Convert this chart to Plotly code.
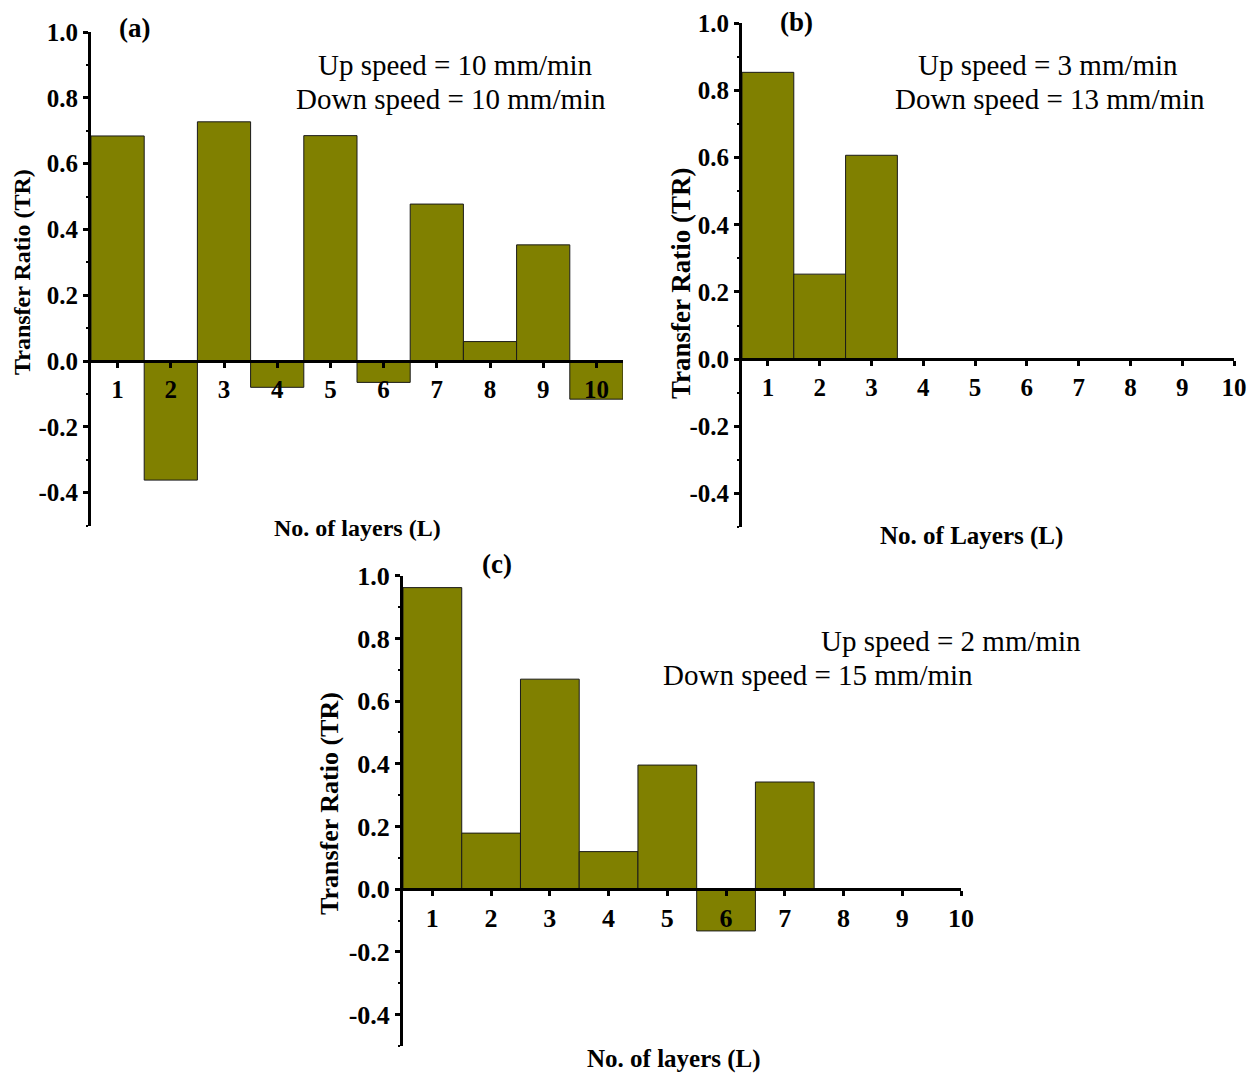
import plotly.graph_objects as go

# ---------------- data ----------------
layers = [1, 2, 3, 4, 5, 6, 7, 8, 9, 10]
tr_a = [0.684, -0.362, 0.727, -0.080, 0.685, -0.065, 0.477, 0.059, 0.353, -0.116]
tr_b = [0.854, 0.253, 0.607, 0, 0, 0, 0, 0, 0, 0]
tr_c = [0.962, 0.179, 0.670, 0.120, 0.396, -0.133, 0.342, 0, 0, 0]

y_tickvals = [-0.4, -0.2, 0.0, 0.2, 0.4, 0.6, 0.8, 1.0]
y_ticktext = ["-0.4", "-0.2", "0.0", "0.2", "0.4", "0.6", "0.8", "1.0"]
x_ticktext = ["1", "2", "3", "4", "5", "6", "7", "8", "9", "10"]

OFF = 8  # page body margin of the browser
W, H = 1259 - OFF, 1074 - OFF
FONT = "Liberation Serif"
BAR = "#808000"


def fx(px):
    return (px - OFF) / W


def fy(py):
    return 1 - (py - OFF) / H


# panel geometry in (screen) pixels
panels = [
    dict(x0=91, x1=623, top=32, bot=525.5, xr=[0.5, 10.5], data=tr_a, tick=25),
    dict(x0=742, x1=1234, top=23.3, bot=527, xr=[0.5, 10.0], data=tr_b, tick=25),
    dict(x0=403, x1=961, top=575.7, bot=1046, xr=[0.5, 10.0], data=tr_c, tick=26),
]
YR = [-0.5, 1.0]

fig = go.Figure()
layout = dict(
    template="none",
    width=W, height=H, autosize=False,
    margin=dict(l=0, r=0, t=0, b=0, pad=0, autoexpand=False),
    paper_bgcolor="white", plot_bgcolor="white",
    showlegend=False,
    font=dict(family=FONT, color="black"),
)

for i, p in enumerate(panels):
    n = "" if i == 0 else str(i + 1)
    fig.add_trace(go.Bar(
        x=layers, y=p["data"], width=1.0,
        marker=dict(color=BAR, line=dict(color="#1a1a1a", width=1)),
        xaxis="x" + n, yaxis="y" + n, hoverinfo="skip",
    ))
    ydom = [fy(p["bot"]), fy(p["top"])]
    zero_pos = ydom[0] + (0 - YR[0]) / (YR[1] - YR[0]) * (ydom[1] - ydom[0])
    layout["xaxis" + n] = dict(
        domain=[fx(p["x0"]), fx(p["x1"])], range=p["xr"],
        anchor="free", position=zero_pos, automargin=False,
        showline=True, linecolor="black", linewidth=3,
        ticks="outside", ticklen=5, tickwidth=2.5, tickcolor="black",
        tickvals=layers, ticktext=x_ticktext,
        tickfont=dict(family=FONT, size=p["tick"], color="black", weight="bold"),
        showgrid=False, zeroline=False, fixedrange=True,
    )
    layout["yaxis" + n] = dict(
        domain=ydom, range=YR, anchor="x" + n, automargin=False,
        showline=True, linecolor="black", linewidth=3,
        ticks="outside", ticklen=5, tickwidth=2.5, tickcolor="black",
        tickvals=y_tickvals, ticktext=y_ticktext,
        minor=dict(ticks="outside", ticklen=2.5, tickwidth=2, tickcolor="black",
                   tickvals=[-0.5, -0.3, -0.1, 0.1, 0.3, 0.5, 0.7, 0.9]),
        tickfont=dict(family=FONT, size=p["tick"], color="black", weight="bold"),
        showgrid=False, zeroline=False, fixedrange=True,
    )

fig.update_layout(**layout)

# ---------------- text ----------------
def ann(text, x, y, size, bold=False, angle=0):
    fig.add_annotation(
        text=text, x=fx(x), y=fy(y), xref="paper", yref="paper",
        xanchor="center", yanchor="middle", showarrow=False, textangle=angle,
        font=dict(family=FONT, size=size, color="black",
                  weight="bold" if bold else "normal"),
    )

# panel labels
ann("(a)", 134, 28, 27, bold=True)
ann("(b)", 796, 22, 27, bold=True)
ann("(c)", 497, 564, 27, bold=True)

# speed notes
ann("Up speed = 10 mm/min", 455, 65, 29)
ann("Down speed = 10 mm/min", 451, 99, 29)
ann("Up speed = 3 mm/min", 1048, 65, 29)
ann("Down speed = 13 mm/min", 1050, 99, 29)
ann("Up speed = 2 mm/min", 951, 641, 29)
ann("Down speed = 15 mm/min", 818, 675, 29)

# axis titles
ann("No. of layers (L)", 357, 528, 24, bold=True)
ann("No. of Layers (L)", 971, 536, 25, bold=True)
ann("No. of layers (L)", 674, 1059, 25, bold=True)
ann("Transfer Ratio (TR)", 22, 272, 24, bold=True, angle=-90)
ann("Transfer Ratio (TR)", 681, 283, 27, bold=True, angle=-90)
ann("Transfer Ratio (TR)", 329, 804, 26, bold=True, angle=-90)

fig.write_html("out.html")
